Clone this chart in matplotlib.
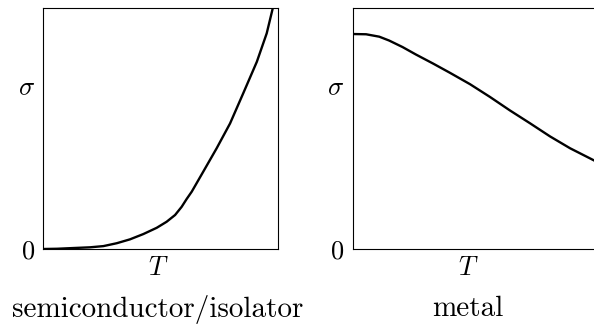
import matplotlib
matplotlib.use('Agg')
import matplotlib.pyplot as plt

plt.rcParams['mathtext.fontset'] = 'cm'
plt.rcParams['font.family'] = 'cmr10'
plt.rcParams['axes.formatter.use_mathtext'] = True

# conductivity vs temperature, both axes in arbitrary units
semi_T = [0.0, 0.06, 0.129, 0.2, 0.257, 0.314, 0.370, 0.427, 0.484, 0.526,
          0.562, 0.590, 0.611, 0.633, 0.682, 0.739, 0.796, 0.852, 0.910,
          0.952, 0.976]
semi_sigma = [0.0, 0.001, 0.004, 0.007, 0.012, 0.024, 0.040, 0.062, 0.088,
              0.113, 0.141, 0.175, 0.207, 0.238, 0.321, 0.418, 0.521, 0.646,
              0.777, 0.895, 0.992]

metal_T = [0.0, 0.057, 0.113, 0.155, 0.212, 0.269, 0.343, 0.414, 0.499,
           0.584, 0.669, 0.754, 0.840, 0.925, 1.024, 1.08]
metal_sigma = [0.892, 0.891, 0.881, 0.865, 0.838, 0.807, 0.769, 0.731, 0.684,
               0.631, 0.575, 0.522, 0.467, 0.418, 0.369, 0.340]

titles = ['semiconductor/isolator', 'metal']

fig = plt.figure(figsize=(5.94, 3.24), dpi=100)
ax1 = fig.add_axes([43 / 594, 75 / 324, 235 / 594, 241 / 324])
# the right panel runs off the edge of the figure
ax2 = fig.add_axes([352.7 / 594, 75 / 324, 1.1 * 235 / 594, 241 / 324])

ax1.plot(semi_T, semi_sigma, color='black', lw=1.7, solid_joinstyle='round')
ax1.set_xlim(0, 1)
ax2.plot(metal_T, metal_sigma, color='black', lw=1.7, solid_joinstyle='round')
ax2.set_xlim(0, 1.1)

for ax, title, w in zip((ax1, ax2), titles, (1.0, 1.1)):
    ax.set_ylim(0, 1)
    ax.set_xticks([])
    ax.set_yticks([0])
    ax.set_yticklabels(['$0$'], fontsize=19)
    ax.tick_params(length=0, pad=6)
    for sp in ax.spines.values():
        sp.set_linewidth(0.8)
    ax.text(-0.072 / w, 0.668, r'$\sigma$', fontsize=19, ha='center',
            va='center', transform=ax.transAxes)
    ax.text(0.49 / w, -0.08, r'$T$', fontsize=19, ha='center', va='center',
            transform=ax.transAxes)
    ax.text(0.49 / w, -0.25, title, fontsize=21, ha='center', va='center',
            transform=ax.transAxes)

fig.savefig('out.png', dpi=100)
